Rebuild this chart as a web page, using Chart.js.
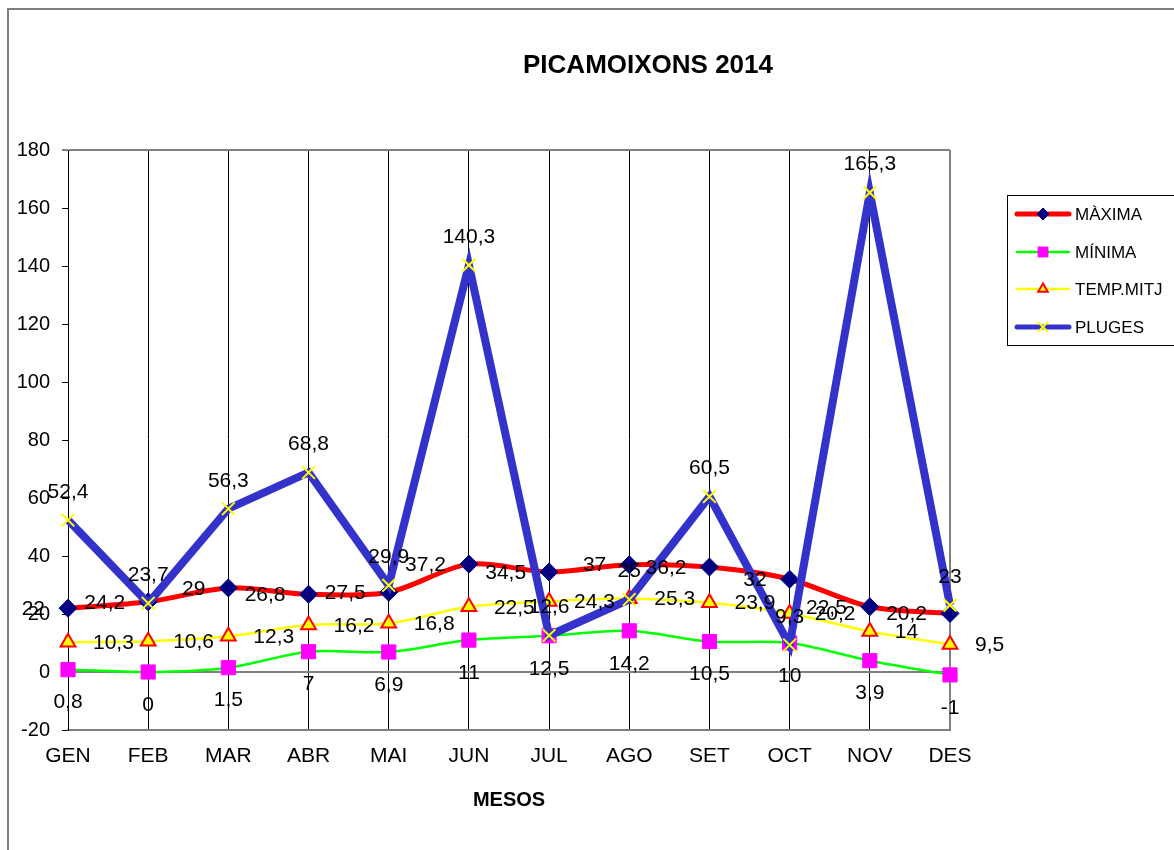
<!DOCTYPE html>
<html>
<head>
<meta charset="utf-8">
<script src="https://cdn.jsdelivr.net/npm/chart.js@4.4.1/dist/chart.umd.min.js"></script>
<style>
html,body{margin:0;padding:0;background:#fff;overflow:hidden;}
#wrap{width:1174px;height:850px;position:relative;}
canvas{display:block;}
</style>
</head>
<body>
<div id="wrap"><canvas id="c" width="1174" height="850"></canvas></div>
<script>
// ---- data ----
const months = ['GEN','FEB','MAR','ABR','MAI','JUN','JUL','AGO','SET','OCT','NOV','DES'];
const maxima = [22, 24.2, 29, 26.8, 27.5, 37.2, 34.5, 37, 36.2, 32, 22.5, 20.2];
const minima = [0.8, 0, 1.5, 7, 6.9, 11, 12.5, 14.2, 10.5, 10, 3.9, -1];
const tempMitj = [10.3, 10.6, 12.3, 16.2, 16.8, 22.5, 24.3, 25.3, 23.9, 20.2, 14, 9.5];
const pluges = [52.4, 23.7, 56.3, 68.8, 29.9, 140.3, 12.6, 25, 60.5, 9.3, 165.3, 23];
const seriesNames = ['MÀXIMA', 'MÍNIMA', 'TEMP.MITJ', 'PLUGES'];
const yTicksMin = -20, yTicksMax = 180, yTickStep = 20;
const chartTitle = 'PICAMOIXONS 2014';
const xTitle = 'MESOS';

const FONT = "'Liberation Sans', Arial, Helvetica, sans-serif";
Chart.defaults.font.family = FONT;
Chart.defaults.color = '#000';

const fmt = v => String(v).replace('.', ',');
// label placement per dataset
const labelPlacement = ['left', 'below', 'right', 'above'];

const valueLabels = {
  id: 'valueLabels',
  afterDatasetsDraw(chart) {
    const ctx = chart.ctx;
    ctx.save();
    ctx.font = '21px ' + FONT;
    ctx.fillStyle = '#000';
    chart.data.datasets.forEach((ds, di) => {
      const meta = chart.getDatasetMeta(di);
      const pos = labelPlacement[di];
      meta.data.forEach((pt, i) => {
        let x = pt.x, y = pt.y;
        ctx.textBaseline = 'middle';
        if (pos === 'left') { ctx.textAlign = 'right'; x -= 23; y += 1; }
        else if (pos === 'right') { ctx.textAlign = 'left'; x += 25; y += 1; }
        else if (pos === 'below') { ctx.textAlign = 'center'; y += 33; }
        else { ctx.textAlign = 'center'; y -= 28; }
        ctx.fillText(fmt(ds.data[i]), x, y);
      });
    });
    ctx.restore();
  }
};

const decor = {
  id: 'decor',
  beforeDraw(chart) {
    const ctx = chart.ctx;
    ctx.save();
    ctx.fillStyle = '#fff';
    ctx.fillRect(0, 0, chart.width, chart.height);
    ctx.strokeStyle = '#808080';
    ctx.lineWidth = 2;
    ctx.beginPath();
    ctx.moveTo(8, 850);
    ctx.lineTo(8, 9);
    ctx.lineTo(1174, 9);
    ctx.stroke();
    ctx.restore();
  },
  afterDraw(chart) {
    const ctx = chart.ctx;
    ctx.save();
    // title
    ctx.font = 'bold 26px ' + FONT;
    ctx.fillStyle = '#000';
    ctx.textAlign = 'center';
    ctx.textBaseline = 'middle';
    ctx.fillText(chartTitle, 648, 66);
    // legend box
    ctx.strokeStyle = '#000';
    ctx.lineWidth = 1;
    ctx.strokeRect(1007.5, 195.5, 200, 150);
    const ys = [214, 252, 289, 327];
    const lw = [5, 2.5, 2.5, 5];
    const radii = [6, 7, 5.5, 7];
    chart.data.datasets.forEach((ds, i) => {
      const y = ys[i];
      ctx.lineCap = 'round';
      ctx.strokeStyle = ds.borderColor;
      ctx.lineWidth = lw[i];
      ctx.beginPath();
      ctx.moveTo(1017, y);
      ctx.lineTo(1069, y);
      ctx.stroke();
      ctx.lineCap = 'butt';
      ctx.fillStyle = ds.pointBackgroundColor;
      ctx.strokeStyle = ds.pointBorderColor;
      ctx.lineWidth = ds.pointBorderWidth;
      Chart.helpers.drawPoint(ctx, {pointStyle: ds.pointStyle, radius: radii[i], rotation: 0, borderWidth: ds.pointBorderWidth}, 1043, y);
      ctx.fillStyle = '#000';
      ctx.font = '17px ' + FONT;
      ctx.textAlign = 'left';
      ctx.textBaseline = 'middle';
      ctx.fillText(seriesNames[i], 1075, y + 1);
    });
    ctx.restore();
  }
};

new Chart(document.getElementById('c'), {
  type: 'line',
  data: {
    labels: months,
    datasets: [
      { label: seriesNames[0], data: maxima, order: 3, clip: false,
        borderColor: '#FF0000', borderWidth: 5, tension: 0.3,
        pointStyle: 'rectRot', pointRadius: 9, pointBackgroundColor: '#000080', pointBorderColor: '#000080', pointBorderWidth: 1 },
      { label: seriesNames[1], data: minima, order: 2, clip: false,
        borderColor: '#00FF00', borderWidth: 2.5, tension: 0.3,
        pointStyle: 'rect', pointRadius: 10, pointBackgroundColor: '#FF00FF', pointBorderColor: '#FF00FF', pointBorderWidth: 1 },
      { label: seriesNames[2], data: tempMitj, order: 1, clip: false,
        borderColor: '#FFFF00', borderWidth: 2.5, tension: 0.3,
        pointStyle: 'triangle', pointRadius: 8.5, pointBackgroundColor: '#FFFF00', pointBorderColor: '#FF0000', pointBorderWidth: 2 },
      { label: seriesNames[3], data: pluges, order: 0, clip: false,
        borderColor: '#3333CC', borderWidth: 8, tension: 0,
        pointStyle: 'crossRot', pointRadius: 9, pointBackgroundColor: '#FFFF00', pointBorderColor: '#FFFF00', pointBorderWidth: 2 }
    ]
  },
  options: {
    responsive: false,
    animation: false,
    events: [],
    layout: { padding: { top: 150, left: 8, right: 224, bottom: 0 } },
    plugins: { legend: { display: false }, tooltip: { enabled: false }, title: { display: false } },
    scales: {
      x: {
        offset: false,
        grid: {
          color: c => c.index === months.length - 1 ? '#808080' : '#000',
          lineWidth: c => c.index === months.length - 1 ? 2 : 1,
          drawTicks: false
        },
        border: { display: true, color: '#808080', width: 2 },
        ticks: { font: { size: 21 }, color: '#000', padding: 14, maxRotation: 0, autoSkip: false },
        title: { display: true, text: xTitle, font: { size: 20, weight: 'bold' }, color: '#000', padding: { top: 0, bottom: 38 } },
        afterFit: s => { s.height = 120; }
      },
      y: {
        min: yTicksMin, max: yTicksMax,
        ticks: { stepSize: yTickStep, font: { size: 20 }, color: '#000', padding: 12 },
        grid: {
          color: c => (c.tick && (c.tick.value === 0 || c.tick.value === yTicksMax)) ? '#808080' : 'rgba(0,0,0,0)',
          lineWidth: c => (c.tick && (c.tick.value === 0 || c.tick.value === yTicksMax)) ? 2 : 1,
          tickColor: '#000', tickWidth: 1, tickLength: 6, drawTicks: true
        },
        border: { display: true, color: '#000', width: 1 },
        afterFit: s => { s.width = 60; }
      }
    }
  },
  plugins: [decor, valueLabels]
});
</script>
</body>
</html>
